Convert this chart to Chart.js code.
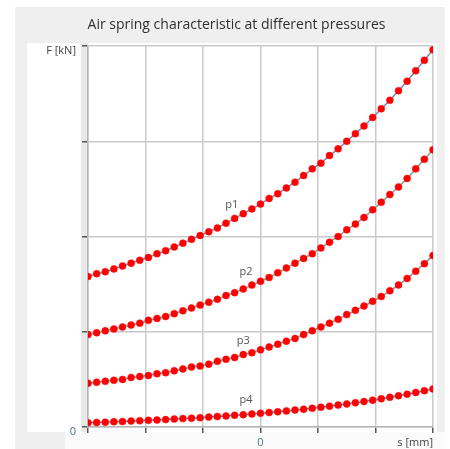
<!DOCTYPE html>
<html>
<head>
<meta charset="utf-8">
<script src="https://cdn.jsdelivr.net/npm/chart.js@4.4.0/dist/chart.umd.min.js"></script>
<style>
  body { margin: 0; background: #fff; }
  canvas { display: block; }
</style>
</head>
<body>
<canvas id="springChart" width="450" height="449"></canvas>
<script>
// --- Data ---
const sValues = [-60,-57,-54,-51,-48,-45,-42,-39,-36,-33,-30,-27,-24,-21,-18,-15,-12,-9,-6,-3,
  0,3,6,9,12,15,18,21,24,27,30,33,36,39,42,45,48,51,54,57,60];

const p1 = [1.58,1.61,1.63,1.66,1.69,1.72,1.75,1.78,1.82,1.85,1.89,1.93,1.97,2.01,2.05,2.09,2.14,2.19,2.24,2.29,
  2.34,2.40,2.45,2.51,2.57,2.64,2.71,2.77,2.85,2.92,3.00,3.08,3.16,3.25,3.34,3.43,3.53,3.63,3.74,3.85,3.96];
const p2 = [0.97,0.99,1.01,1.03,1.05,1.07,1.09,1.12,1.14,1.16,1.19,1.22,1.25,1.28,1.31,1.34,1.38,1.41,1.45,1.49,
  1.53,1.57,1.62,1.67,1.72,1.77,1.82,1.88,1.94,2.00,2.07,2.13,2.20,2.28,2.36,2.44,2.52,2.61,2.71,2.81,2.91];
const p3 = [0.46,0.47,0.48,0.49,0.50,0.52,0.53,0.54,0.56,0.57,0.59,0.61,0.63,0.64,0.66,0.69,0.71,0.73,0.76,0.78,
  0.81,0.84,0.87,0.90,0.93,0.97,1.01,1.05,1.09,1.13,1.18,1.225,1.27,1.32,1.37,1.43,1.49,1.56,1.635,1.715,1.80];
const p4 = [0.045,0.048,0.051,0.055,0.058,0.062,0.066,0.070,0.074,0.078,0.083,0.088,0.093,0.098,0.104,0.110,0.116,0.123,0.129,0.137,
  0.144,0.152,0.160,0.169,0.178,0.187,0.197,0.208,0.219,0.230,0.242,0.255,0.268,0.282,0.297,0.312,0.328,0.345,0.362,0.381,0.400];

const seriesNames = ['p1', 'p2', 'p3', 'p4'];
// where the p-labels sit, in data units (s, F)
const labelS = [-10, -5, -6, -5];
const labelF = [2.33, 1.63, 0.90, 0.28];

const sTicks = { 0: '0', 60: 's [mm]' };
const fTicks = { 0: '0', 4: 'F [kN]' };

const lineColors = ['#7f88a6', '#86a08a', '#8f8f8f', '#7a6cc0'];

function toPoints(vals) {
  return vals.map((v, i) => ({ x: sValues[i], y: v }));
}

// panel backgrounds like the original screenshot
const panelBackground = {
  id: 'panelBackground',
  beforeDraw(chart) {
    const ctx = chart.ctx;
    ctx.save();
    ctx.fillStyle = '#ffffff';
    ctx.fillRect(0, 0, chart.width, chart.height);
    ctx.fillStyle = '#efefef';
    ctx.fillRect(15, 7, 430, 442);
    ctx.fillStyle = '#ffffff';
    ctx.fillRect(27, 43, 410, 389);
    ctx.fillStyle = '#e9e9e9';
    ctx.fillRect(81, 43, 7, 389);
    ctx.fillStyle = '#fbfbfb';
    ctx.fillRect(65, 432, 380, 17);
    ctx.restore();
  }
};

// p1..p4 names next to the curves
const seriesLabels = {
  id: 'seriesLabels',
  afterDatasetsDraw(chart) {
    const ctx = chart.ctx;
    const xs = chart.scales.x, ys = chart.scales.y;
    ctx.save();
    ctx.font = '11px "Open Sans"';
    ctx.fillStyle = '#555';
    ctx.textAlign = 'center';
    ctx.textBaseline = 'middle';
    seriesNames.forEach((name, i) => {
      ctx.fillText(name, xs.getPixelForValue(labelS[i]), ys.getPixelForValue(labelF[i]));
    });
    ctx.restore();
  }
};

const series = [p1, p2, p3, p4];

new Chart(document.getElementById('springChart'), {
  type: 'line',
  data: {
    datasets: series.map((vals, i) => ({
      label: seriesNames[i],
      data: toPoints(vals),
      borderColor: lineColors[i],
      borderWidth: 1.5,
      pointRadius: 3.5,
      pointBorderWidth: 0.5,
      pointBackgroundColor: '#ff0000',
      pointBorderColor: '#ff1010',
      tension: 0
    }))
  },
  options: {
    responsive: false,
    animation: false,
    devicePixelRatio: 1,
    layout: { padding: { left: 40, right: 17, top: 0, bottom: 0 } },
    plugins: {
      legend: { display: false },
      tooltip: { enabled: false },
      title: {
        display: true,
        text: 'Air spring characteristic at different pressures',
        color: '#2f2f2f',
        font: { family: '"Open Sans"', size: 14, weight: 'normal', lineHeight: 1.2 },
        padding: { top: 17, bottom: 12.2 }
      }
    },
    scales: {
      x: {
        type: 'linear',
        min: -60,
        max: 60,
        afterFit(scale) { scale.height = 22; },
        ticks: {
          stepSize: 20,
          autoSkip: false,
          maxRotation: 0,
          align: 'inner',
          padding: 3,
          color: (c) => c.tick.value === 0 ? '#4f6f8f' : '#444',
          font: { family: '"Open Sans"', size: 11 },
          callback: (v) => sTicks[v] || ''
        },
        grid: { color: '#c9c9c9', lineWidth: 1.5, tickColor: '#555', tickLength: 6 },
        border: { color: '#b5b5b5', width: 1.5 }
      },
      y: {
        min: 0,
        max: 4,
        afterFit(scale) { scale.width = 48; },
        ticks: {
          stepSize: 1,
          autoSkip: false,
          padding: 6,
          labelOffset: 5,
          color: (c) => c.tick.value === 0 ? '#4f6f8f' : '#444',
          font: { family: '"Open Sans"', size: 11 },
          callback: (v) => fTicks[v] || ''
        },
        grid: { color: '#c9c9c9', lineWidth: 1.5, tickColor: '#555', tickLength: 6 },
        border: { color: '#b5b5b5', width: 1.5 }
      }
    }
  },
  plugins: [panelBackground, seriesLabels]
});
</script>
</body>
</html>
